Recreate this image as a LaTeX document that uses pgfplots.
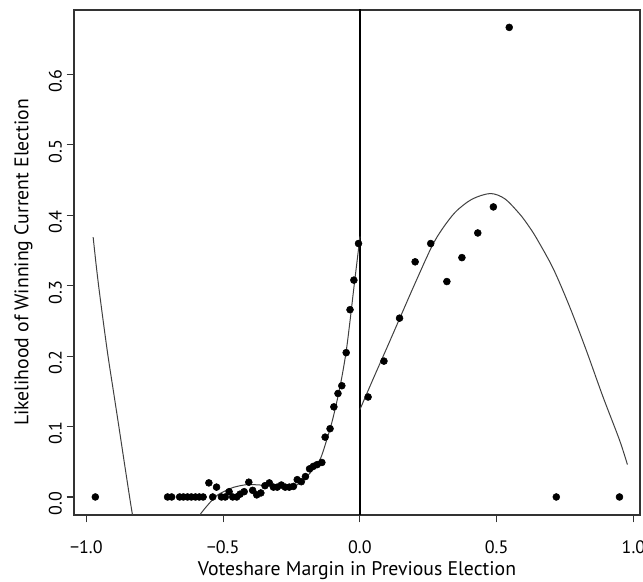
\documentclass[border=0pt]{standalone}
\usepackage{pgfplots}
\pgfplotsset{compat=1.18}
\usepackage{fontspec}
\setmainfont{PT Sans}
\begin{document}
\begin{tikzpicture}
\begin{axis}[
  scale only axis,
  width=424.5pt, height=378.75pt,
  at={(55.5pt,50.25pt)}, anchor=south west,
  xmin=-1.045, xmax=1.024,
  ymin=-0.0256, ymax=0.6917,
  axis line style={black!80, line width=0.8pt},
  tick style={black!80, line width=0.8pt},
  tick align=outside,
  major tick length=5.5pt,
  xtick={-1,-0.5,0,0.5,1},
  xticklabels={−1.0,−0.5,0.0,0.5,1.0},
  ytick={0,0.1,0.2,0.3,0.4,0.5,0.6},
  yticklabels={0.0,0.1,0.2,0.3,0.4,0.5,0.6},
  xtick pos=bottom, ytick pos=left,
  tick label style={font=\fontsize{13.5}{15}\selectfont},
  x tick label style={yshift=-10pt},
  y tick label style={rotate=90, anchor=south, xshift=-5pt},
  label style={font=\fontsize{14.8}{17}\selectfont},
  xlabel={Voteshare Margin in Previous Election},
  ylabel={Likelihood of Winning Current Election},
  xlabel style={yshift=0.8pt},
  ylabel style={yshift=5.5pt},
]
% vertical reference line at 0
\addplot[black, line width=1pt] coordinates {(0,-0.1) (0,0.8)};
% left polynomial fit
\addplot[black!75, line width=0.75pt, smooth] coordinates {
(-0.975,0.369) (-0.965,0.333) (-0.955,0.300) (-0.940,0.255) (-0.921,0.201)
(-0.900,0.148) (-0.881,0.100) (-0.856,0.036) (-0.831,-0.026) (-0.800,-0.092)
(-0.760,-0.130) (-0.720,-0.138) (-0.680,-0.112) (-0.640,-0.068) (-0.610,-0.042)
(-0.586,-0.026) (-0.555,-0.011) (-0.523,0.002) (-0.490,0.009) (-0.462,0.0137)
(-0.414,0.0175) (-0.365,0.017) (-0.304,0.015) (-0.243,0.0155) (-0.219,0.020)
(-0.182,0.034) (-0.146,0.053) (-0.122,0.080) (-0.103,0.105) (-0.085,0.134)
(-0.066,0.170) (-0.050,0.207) (-0.036,0.250) (-0.022,0.297) (-0.005,0.352)
(0.000,0.370)
};
% right polynomial fit
\addplot[black!75, line width=0.75pt, smooth] coordinates {
(0.000,0.124) (0.050,0.169) (0.100,0.213) (0.146,0.254) (0.200,0.302)
(0.262,0.355) (0.300,0.380) (0.350,0.405) (0.410,0.423) (0.477,0.431)
(0.530,0.4235) (0.584,0.402) (0.615,0.386) (0.645,0.368) (0.706,0.325)
(0.766,0.271) (0.827,0.209) (0.888,0.143) (0.949,0.081) (0.978,0.046)
};
% binned observations
\addplot[only marks, mark=*, mark size=2.6pt, black] coordinates {
(-0.967,0) (-0.703,0) (-0.688,0) (-0.659,0) (-0.645,0) (-0.630,0) (-0.616,0)
(-0.601,0) (-0.587,0) (-0.573,0) (-0.552,0.020) (-0.538,0) (-0.524,0.014)
(-0.506,0) (-0.492,0) (-0.478,0.0075) (-0.465,0) (-0.450,0) (-0.438,0.004)
(-0.423,0.0075) (-0.406,0.021) (-0.392,0.0094) (-0.377,0.003) (-0.362,0.0057)
(-0.347,0.016) (-0.331,0.020) (-0.316,0.014) (-0.302,0.014) (-0.287,0.017)
(-0.273,0.014) (-0.258,0.014) (-0.243,0.015) (-0.229,0.0246) (-0.214,0.0217)
(-0.199,0.029) (-0.184,0.040) (-0.170,0.0435) (-0.156,0.046) (-0.139,0.049)
(-0.127,0.085) (-0.109,0.097) (-0.095,0.128) (-0.080,0.147) (-0.066,0.158)
(-0.050,0.205) (-0.036,0.266) (-0.022,0.308) (-0.005,0.360)
(0.030,0.142) (0.088,0.193) (0.145,0.254) (0.202,0.334) (0.259,0.360)
(0.318,0.306) (0.373,0.340) (0.431,0.375) (0.488,0.412) (0.546,0.667)
(0.718,0) (0.949,0)
};
\end{axis}
\pgfresetboundingbox
\path (0,0) rectangle (482.25pt,436.5pt);
\end{tikzpicture}
\end{document}
